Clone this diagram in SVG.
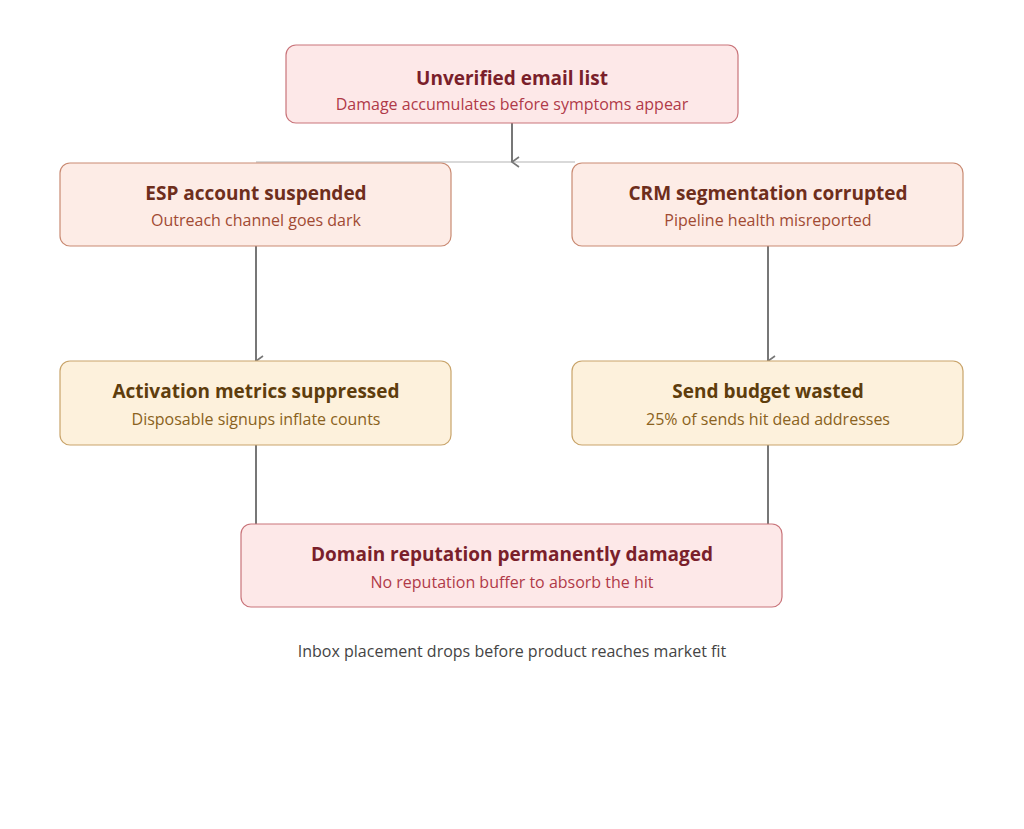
<svg xmlns="http://www.w3.org/2000/svg" width="1024" height="829" viewBox="0 0 1024 829">
<style>
.t{font-family:"Open Sans","Noto Sans",sans-serif;text-anchor:middle}
.h{font-size:19px;font-weight:700}
.s{font-size:16px}
.red rect{fill:#fde8e8;stroke:#c9747a;stroke-width:1.2}
.red .h{fill:#7a1f2b}.red .s{fill:#b03a48}
.rs rect{fill:#fdece6;stroke:#c98a72;stroke-width:1.2}
.rs .h{fill:#6e2e1c}.rs .s{fill:#a14a33}
.am rect{fill:#fdf1dc;stroke:#c9a46a;stroke-width:1.2}
.am .h{fill:#5e3d0c}.am .s{fill:#8a6220}
.c{stroke:#777;stroke-width:2;fill:none}
</style>
<defs><marker id="a" viewBox="0 0 12 12" refX="6" refY="10" markerWidth="12" markerHeight="12" markerUnits="userSpaceOnUse" orient="auto-start-reverse"><path d="M1 3 L6 10 L11 3" fill="none" stroke="#777" stroke-width="1.6"/></marker></defs>
<rect width="1024" height="829" fill="#fff"/>
<g id="connectors">
<line x1="256" y1="162" x2="575" y2="162" stroke="#ccc" stroke-width="1.5"/>
<line class="c" x1="512" y1="123" x2="512" y2="162" marker-end="url(#a)"/>
<line class="c" x1="256" y1="246" x2="256" y2="361" marker-end="url(#a)"/>
<line class="c" x1="768" y1="246" x2="768" y2="361" marker-end="url(#a)"/>
<line class="c" x1="256" y1="445" x2="256" y2="524"/>
<line class="c" x1="768" y1="445" x2="768" y2="524"/>
</g>
<g id="n1" class="red"><rect x="286" y="45" width="452" height="78" rx="10"/><text class="t h" x="512" y="85">Unverified email list</text><text class="t s" x="512" y="110">Damage accumulates before symptoms appear</text></g>
<g id="n2" class="rs"><rect x="60" y="163" width="391" height="83" rx="10"/><text class="t h" x="256" y="200">ESP account suspended</text><text class="t s" x="256" y="226">Outreach channel goes dark</text></g>
<g id="n3" class="rs"><rect x="572" y="163" width="391" height="83" rx="10"/><text class="t h" x="768" y="200">CRM segmentation corrupted</text><text class="t s" x="768" y="226">Pipeline health misreported</text></g>
<g id="n4" class="am"><rect x="60" y="361" width="391" height="84" rx="10"/><text class="t h" x="256" y="398">Activation metrics suppressed</text><text class="t s" x="256" y="425">Disposable signups inflate counts</text></g>
<g id="n5" class="am"><rect x="572" y="361" width="391" height="84" rx="10"/><text class="t h" x="768" y="398">Send budget wasted</text><text class="t s" x="768" y="425">25% of sends hit dead addresses</text></g>
<g id="n6" class="red"><rect x="241" y="524" width="541" height="83" rx="10"/><text class="t h" x="512" y="561">Domain reputation permanently damaged</text><text class="t s" x="512" y="588">No reputation buffer to absorb the hit</text></g>
<text class="t" x="512" y="657" font-size="16" fill="#444">Inbox placement drops before product reaches market fit</text>
</svg>
